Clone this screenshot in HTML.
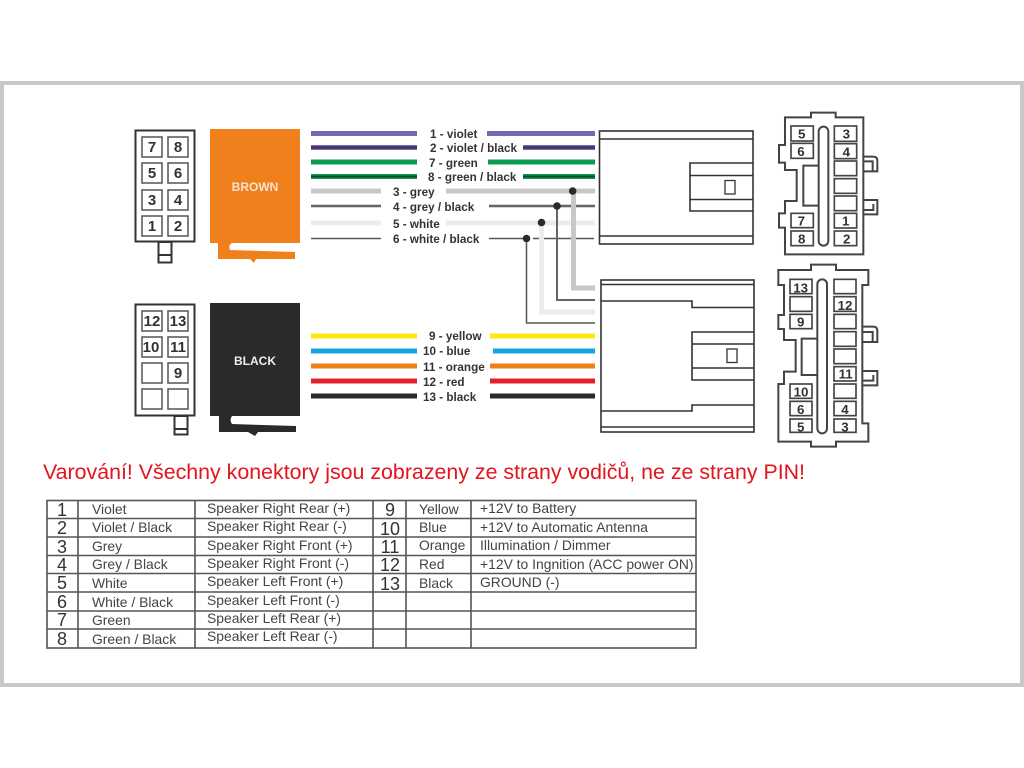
<!DOCTYPE html>
<html><head><meta charset="utf-8"><style>
html,body{margin:0;padding:0;background:#fff;width:1024px;height:768px;overflow:hidden}
svg{display:block}
text{font-family:"Liberation Sans",sans-serif}
.l{font-weight:bold;font-size:11.7px;fill:#333}
.n{font-size:18px;fill:#333;text-anchor:middle}
.c{font-size:13.9px;fill:#444}
.b{font-weight:bold;font-size:15px;fill:#333;text-anchor:middle}
.z{font-weight:bold;font-size:40px;fill:#333;text-anchor:middle}
</style></head><body>
<svg width="1024" height="768" viewBox="0 0 1024 768" xmlns="http://www.w3.org/2000/svg">
<rect x="2" y="83" width="1020" height="602" fill="#fff" stroke="#c8c8c8" stroke-width="4"/>

<!-- left pin block 1 -->
<g fill="none" stroke="#333" stroke-width="2">
<rect x="135.500" y="130.500" width="59" height="111"/>
<rect x="158.500" y="242" width="13" height="20.500"/><path d="M158 255H172"/>
</g>
<g fill="#fff" stroke="#555" stroke-width="1.500">
<rect x="142" y="137" width="20" height="20"/><rect x="168" y="137" width="20" height="20"/>
<rect x="142" y="163" width="20" height="20"/><rect x="168" y="163" width="20" height="20"/>
<rect x="142" y="190" width="20" height="20"/><rect x="168" y="190" width="20" height="20"/>
<rect x="142" y="216" width="20" height="20"/><rect x="168" y="216" width="20" height="20"/>
</g>
<g>
<text class="b" x="152" y="152">7</text><text class="b" x="178" y="152">8</text>
<text class="b" x="152" y="178">5</text><text class="b" x="178" y="178">6</text>
<text class="b" x="152" y="205">3</text><text class="b" x="178" y="205">4</text>
<text class="b" x="152" y="231">1</text><text class="b" x="178" y="231">2</text>
</g>

<!-- left pin block 2 -->
<g fill="none" stroke="#333" stroke-width="2">
<rect x="135.500" y="304.500" width="59" height="111"/>
<rect x="174.500" y="416" width="13" height="18.500"/><path d="M174 429H188"/>
</g>
<g fill="#fff" stroke="#555" stroke-width="1.500">
<rect x="142" y="311" width="20" height="20"/><rect x="168" y="311" width="20" height="20"/>
<rect x="142" y="337" width="20" height="20"/><rect x="168" y="337" width="20" height="20"/>
<rect x="142" y="363" width="20" height="20"/><rect x="168" y="363" width="20" height="20"/>
<rect x="142" y="389" width="20" height="20"/><rect x="168" y="389" width="20" height="20"/>
</g>
<g>
<text class="b" x="152" y="326">12</text><text class="b" x="178" y="326">13</text>
<text class="b" x="151" y="352">10</text><text class="b" x="178" y="352">11</text>
<text class="b" x="178" y="378">9</text>
</g>

<!-- housings -->
<path d="M210 129H300V243H232Q228 245 230 250L295 252V259H256L254 263L250 259H218V243H210Z" fill="#f0801c"/>
<text x="255" y="191" text-anchor="middle" font-size="12" font-weight="bold" fill="#f6e4d2">BROWN</text>
<path d="M210 303H300V416H232Q229 420 232 424L296 426V432H258L255 436L248 432H219V416H210Z" fill="#2b2a29"/>
<text x="255" y="365" text-anchor="middle" font-size="12" font-weight="bold" fill="#eee">BLACK</text>

<!-- wires top -->
<g fill="none">
<path d="M311 133.500H417M487 133.500H595" stroke="#7a68ae" stroke-width="5"/>
<path d="M311 147.500H417M523 147.500H595" stroke="#7a68ae" stroke-width="5"/>
<path d="M311 147.500H417M523 147.500H595" stroke="#3a3560" stroke-width="2.500"/>
<path d="M311 162H417M488 162H595" stroke="#0a9a50" stroke-width="5"/>
<path d="M311 176.500H417M523 176.500H595" stroke="#0a9a50" stroke-width="5"/>
<path d="M311 176.500H417M523 176.500H595" stroke="#0d4a2c" stroke-width="2"/>
<path d="M311 191H381M446 191H595" stroke="#c8c8c8" stroke-width="5"/>
<path d="M311 206H381M489 206H595" stroke="#d4d4d4" stroke-width="4"/>
<path d="M311 206H381M489 206H595" stroke="#666" stroke-width="2"/>
<path d="M311 223H381M446 223H595" stroke="#ececec" stroke-width="5"/>
<path d="M311 238.500H381M489 238.500H526M533 238.500H594" stroke="#555" stroke-width="1.500"/>
<path d="M573.500 191V288H595" stroke="#c8c8c8" stroke-width="5"/>
<path d="M557 206V300H595" stroke="#666" stroke-width="2"/>
<path d="M541.500 223V312H595" stroke="#ececec" stroke-width="5"/>
<path d="M526.500 238V323H595" stroke="#555" stroke-width="1.500"/>
</g>
<g fill="#2b2a29">
<circle cx="572.700" cy="191" r="3.800"/><circle cx="557" cy="206" r="3.800"/>
<circle cx="541.500" cy="222.500" r="3.800"/><circle cx="526.500" cy="238.500" r="3.800"/>
</g>

<!-- wires bottom -->
<g fill="none" stroke-width="5">
<path d="M311 336H417M490 336H595" stroke="#fde910"/>
<path d="M311 351H417M493 351H595" stroke="#14a5e0"/>
<path d="M311 366H417M490 366H595" stroke="#f0801c"/>
<path d="M311 381H417M490 381H595" stroke="#e3212b"/>
<path d="M311 396H417M490 396H595" stroke="#2b2a29"/>
</g>

<!-- wire labels -->
<g>
<text class="l" x="430" y="138">1 - violet</text>
<text class="l" x="430" y="152">2 - violet / black</text>
<text class="l" x="429" y="167">7 - green</text>
<text class="l" x="428" y="181">8 - green / black</text>
<text class="l" x="393" y="196">3 - grey</text>
<text class="l" x="393" y="211">4 - grey / black</text>
<text class="l" x="393" y="228">5 - white</text>
<text class="l" x="393" y="243">6 - white / black</text>
<text class="l" x="429" y="340">9 - yellow</text>
<text class="l" x="423" y="355">10 - blue</text>
<text class="l" x="423" y="371">11 - orange</text>
<text class="l" x="423" y="386">12 - red</text>
<text class="l" x="423" y="401">13 - black</text>
</g>

<!-- side connector 1 -->
<g fill="none" stroke="#333" stroke-width="1.600">
<rect x="599.500" y="131" width="153.500" height="113"/>
<path d="M599 139H753M599 236H753"/>
<path d="M753 163H690V211H753M690 175.500H753M690 199.500H753"/>
<rect x="725" y="180.500" width="10" height="13.500" stroke-width="1.300"/>
</g>
<!-- side connector 2 -->
<g fill="none" stroke="#333" stroke-width="1.600">
<rect x="601" y="280" width="153" height="152"/>
<path d="M601 284.500H754M601 427H754"/>
<path d="M601 301H692V307.500H754M601 411H692V405H754"/>
<path d="M754 332H692V380H754M692 344H754M692 368H754"/>
<rect x="727" y="349" width="10" height="13.500" stroke-width="1.300"/>
</g>

<!-- end connector 1 -->
<g transform="translate(760 100) scale(.33333)">
<g fill="none" stroke="#444" stroke-width="6">
<path d="M153 52V38H227V52H310V463H75V383H57V340H75V303H110V210H75V188H57V135H75V52Z"/>
<rect x="176" y="80" width="29" height="357" rx="14.500"/>
<path d="M176 197H130V317H176"/>
<path d="M310 170H340Q352 170 352 182V214H310M310 184H338V214"/>
<path d="M310 300H352V343H310M310 330H340V312"/>
</g>
<g fill="#fff" stroke="#444" stroke-width="5">
<rect x="93" y="78" width="67" height="45"/><rect x="93" y="130" width="67" height="45"/>
<rect x="93" y="340" width="67" height="43"/><rect x="93" y="393" width="67" height="44"/>
<rect x="223" y="78" width="67" height="46"/><rect x="223" y="131" width="67" height="45"/>
<rect x="223" y="183" width="67" height="44"/><rect x="223" y="236" width="67" height="44"/>
<rect x="223" y="288" width="67" height="44"/><rect x="223" y="340" width="67" height="44"/>
<rect x="223" y="393" width="67" height="44"/>
</g>
<text class="z" x="125" y="116">5</text><text class="z" x="123" y="168">6</text>
<text class="z" x="124" y="376">7</text><text class="z" x="125" y="430">8</text>
<text class="z" x="259" y="116">3</text><text class="z" x="259" y="170">4</text>
<text class="z" x="257" y="376">1</text><text class="z" x="260" y="431">2</text>
</g>

<!-- end connector 2 -->
<g transform="translate(760 260) scale(.33333)">
<g fill="none" stroke="#444" stroke-width="6">
<path d="M153 30V14H228V30H325V75H307V490H325V545H228V560H153V545H55V372H72V335H107V240H72V207H55V165H72V75H55V30Z"/>
<rect x="172" y="58" width="29" height="462" rx="14.500"/>
<path d="M172 236H125V345H172"/>
<path d="M307 200H340Q352 200 352 212V246H307M307 216H338V246"/>
<path d="M307 333H352V376H307M307 362H340V345"/>
</g>
<g fill="#fff" stroke="#444" stroke-width="5">
<rect x="90" y="58" width="66" height="43"/><rect x="90" y="110" width="66" height="44"/>
<rect x="90" y="163" width="66" height="43"/><rect x="90" y="372" width="66" height="43"/>
<rect x="90" y="424" width="66" height="43"/><rect x="90" y="477" width="66" height="40"/>
<rect x="222" y="58" width="66" height="43"/><rect x="222" y="110" width="66" height="44"/>
<rect x="222" y="163" width="66" height="43"/><rect x="222" y="215" width="66" height="44"/>
<rect x="222" y="267" width="66" height="44"/><rect x="222" y="320" width="66" height="43"/>
<rect x="222" y="372" width="66" height="43"/><rect x="222" y="424" width="66" height="43"/>
<rect x="222" y="477" width="66" height="40"/>
</g>
<text class="z" x="122" y="97">13</text><text class="z" x="122" y="200">9</text>
<text class="z" x="123" y="409">10</text><text class="z" x="122" y="462">6</text><text class="z" x="122" y="514">5</text>
<text class="z" x="255" y="150">12</text><text class="z" x="257" y="355">11</text>
<text class="z" x="255" y="462">4</text><text class="z" x="255" y="514">3</text>
</g>

<!-- warning -->
<text x="43" y="479" font-size="21.5" fill="#e3141c" textLength="762" lengthAdjust="spacingAndGlyphs">Varování! Všechny konektory jsou zobrazeny ze strany vodičů, ne ze strany PIN!</text>

<!-- table -->
<g fill="none" stroke="#555" stroke-width="1.600">
<rect x="47" y="500.500" width="649" height="147.500"/>
<path d="M47 518.500H696M47 537H696M47 555.500H696M47 573.500H696M47 592H696M47 611H696M47 629H696"/>
<path d="M78 500V648M195 500V648M373 500V648M406 500V648M471 500V648"/>
</g>
<g>
<text class="n" x="62" y="516">1</text><text class="n" x="62" y="534">2</text>
<text class="n" x="62" y="553">3</text><text class="n" x="62" y="571">4</text>
<text class="n" x="62" y="589">5</text><text class="n" x="62" y="608">6</text>
<text class="n" x="62" y="626">7</text><text class="n" x="62" y="645">8</text>
<text class="n" x="390" y="516">9</text><text class="n" x="390" y="535">10</text>
<text class="n" x="390" y="553">11</text><text class="n" x="390" y="571">12</text>
<text class="n" x="390" y="590">13</text>
</g>
<g>
<text class="c" x="92" y="514">Violet</text>
<text class="c" x="92" y="532">Violet / Black</text>
<text class="c" x="92" y="551">Grey</text>
<text class="c" x="92" y="569">Grey / Black</text>
<text class="c" x="92" y="588">White</text>
<text class="c" x="92" y="607">White / Black</text>
<text class="c" x="92" y="625">Green</text>
<text class="c" x="92" y="644">Green / Black</text>
<text class="c" x="207" y="513">Speaker Right Rear (+)</text>
<text class="c" x="207" y="531">Speaker Right Rear (-)</text>
<text class="c" x="207" y="550">Speaker Right Front (+)</text>
<text class="c" x="207" y="568">Speaker Right Front (-)</text>
<text class="c" x="207" y="586">Speaker Left Front (+)</text>
<text class="c" x="207" y="605">Speaker Left Front (-)</text>
<text class="c" x="207" y="623">Speaker Left Rear (+)</text>
<text class="c" x="207" y="641">Speaker Left Rear (-)</text>
<text class="c" x="419" y="514">Yellow</text>
<text class="c" x="419" y="532">Blue</text>
<text class="c" x="419" y="550">Orange</text>
<text class="c" x="419" y="569">Red</text>
<text class="c" x="419" y="588">Black</text>
<text class="c" x="480" y="513">+12V to Battery</text>
<text class="c" x="480" y="532">+12V to Automatic Antenna</text>
<text class="c" x="480" y="550">Illumination / Dimmer</text>
<text class="c" x="480" y="569">+12V to Ingnition (ACC power ON)</text>
<text class="c" x="480" y="587">GROUND (-)</text>
</g>
</svg>
</body></html>
